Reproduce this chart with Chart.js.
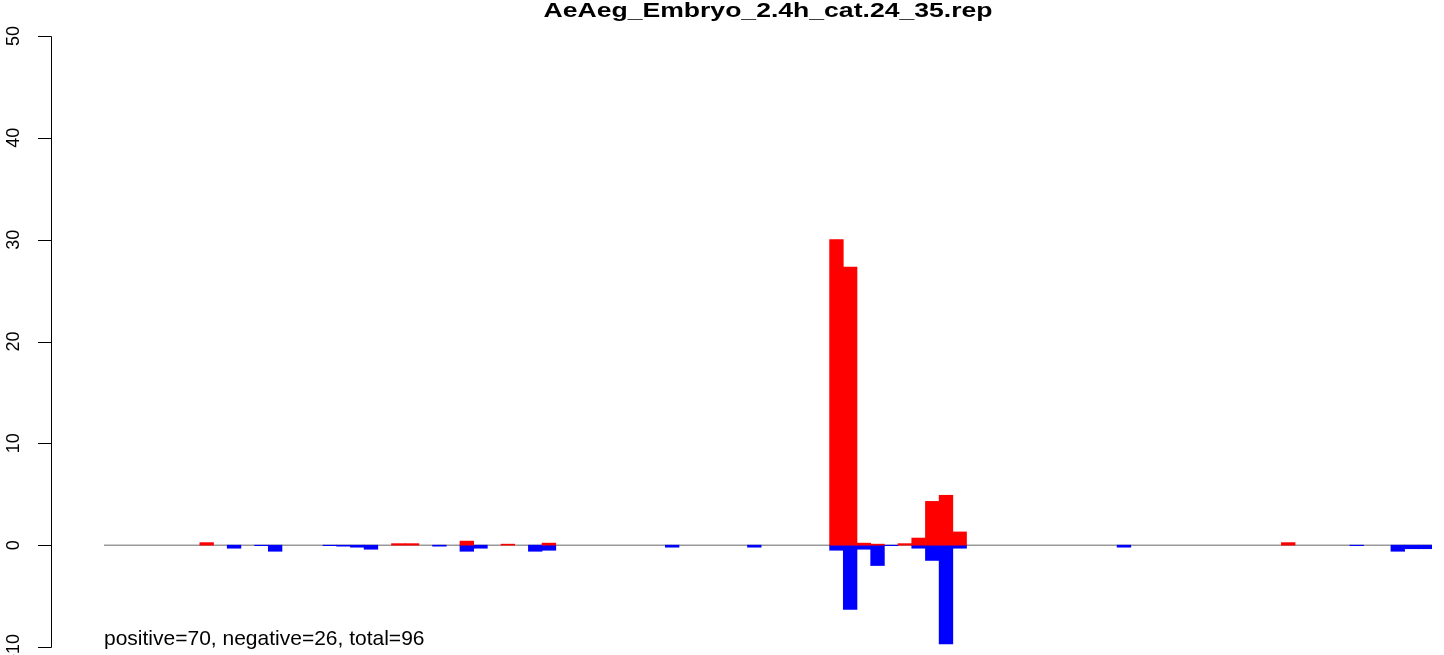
<!DOCTYPE html>
<html>
<head>
<meta charset="utf-8">
<script src="https://cdn.jsdelivr.net/npm/chart.js@4/dist/chart.umd.min.js"></script>
<style>
html,body{margin:0;padding:0;background:#fff;}
#wrap{width:1444px;height:655px;}
</style>
</head>
<body>
<div id="wrap"><canvas id="c" width="1444" height="655"></canvas></div>
<script>
const chartTitle = "AeAeg_Embryo_2.4h_cat.24_35.rep";
const footText = "positive=70, negative=26, total=96";
const yTicks = [-10, 0, 10, 20, 30, 40, 50];
const categories = Array.from({length: 97}, (_, i) => String(i + 1));
const positiveValues = [
  0,0,0,0,0,0,0,0.25,0,0,
  0,0,0,0,0,0,0,0,0,0,
  0,0.15,0.15,0,0,0,0.4,0,0,0.1,
  0,0,0.2,0,0,0,0,0,0,0,
  0,0,0,0,0,0,0,0,0,0,
  0,0,0,30,27.3,0.2,0.1,0,0.15,0.7,
  4.3,4.9,1.3,0,0,0,0,0,0,0,
  0,0,0,0,0,0,0,0,0,0,
  0,0,0,0,0,0,0.25,0,0,0,
  0,0,0,0,0,0,0
];
const negativeValues = [
  0,0,0,0,0,0,0,0,0,-0.3,
  0,-0.05,-0.6,0,0,0,-0.05,-0.1,-0.2,-0.4,
  0,0,0,0,-0.1,0,-0.6,-0.3,0,0,
  0,-0.6,-0.5,0,0,0,0,0,0,0,
  0,-0.2,0,0,0,0,0,-0.2,0,0,
  0,0,0,-0.5,-6.3,-0.4,-2.0,-0.05,0,-0.3,
  -1.5,-9.7,-0.3,0,0,0,0,0,0,0,
  0,0,0,0,-0.2,0,0,0,0,0,
  0,0,0,0,0,0,0,0,0,0,
  0,-0.05,0,0,-0.6,-0.35,-0.35
];

const FONT = '"Liberation Sans", Arial, Helvetica, sans-serif';
const nz = v => (v === 0 ? null : v);

const decor = {
  id: 'decor',
  beforeDatasetsDraw(chart) {
    const ctx = chart.ctx, y = chart.scales.y, a = chart.chartArea;
    ctx.save();
    const y0 = y.getPixelForValue(0);
    ctx.strokeStyle = '#999999';
    ctx.lineWidth = 1.5;
    ctx.beginPath();
    ctx.moveTo(a.left, y0);
    ctx.lineTo(a.right, y0);
    ctx.stroke();
    ctx.restore();
  },
  afterDatasetsDraw(chart) {
    const ctx = chart.ctx, y = chart.scales.y, a = chart.chartArea;
    ctx.save();
    const ax = 51.5;
    ctx.strokeStyle = '#000';
    ctx.lineWidth = 1;
    ctx.beginPath();
    ctx.moveTo(ax, Math.round(y.getPixelForValue(yTicks[0])) + 0.5);
    ctx.lineTo(ax, Math.round(y.getPixelForValue(yTicks[yTicks.length - 1])) + 0.5);
    yTicks.forEach(t => {
      const py = Math.round(y.getPixelForValue(t)) + 0.5;
      ctx.moveTo(ax, py);
      ctx.lineTo(38, py);
    });
    ctx.stroke();
    ctx.fillStyle = '#000';
    ctx.font = '18px ' + FONT;
    ctx.textAlign = 'center';
    ctx.textBaseline = 'middle';
    yTicks.forEach(t => {
      const py = y.getPixelForValue(t);
      ctx.save();
      ctx.translate(14, py);
      ctx.rotate(-Math.PI / 2);
      ctx.fillText(String(t), 0, 0);
      ctx.restore();
    });
    ctx.font = 'bold 21px ' + FONT;
    ctx.textAlign = 'center';
    ctx.textBaseline = 'alphabetic';
    const w = ctx.measureText(chartTitle).width;
    const sx = 449 / w;
    ctx.save();
    ctx.translate((a.left + a.right) / 2, 17);
    ctx.scale(sx, 1);
    ctx.fillText(chartTitle, 0, 0);
    ctx.restore();
    ctx.font = '21px ' + FONT;
    ctx.textAlign = 'left';
    ctx.fillText(footText, a.left, 645);
    ctx.restore();
  }
};

new Chart(document.getElementById('c'), {
  type: 'bar',
  data: {
    labels: categories,
    datasets: [
      { label: 'positive', data: positiveValues.map(nz), backgroundColor: '#ff0000', borderWidth: 0, barPercentage: 1, categoryPercentage: 1 },
      { label: 'negative', data: negativeValues.map(nz), backgroundColor: '#0000ff', borderWidth: 0, barPercentage: 1, categoryPercentage: 1 }
    ]
  },
  options: {
    responsive: false,
    animation: false,
    devicePixelRatio: 1,
    layout: { padding: { left: 104, right: 12, top: 36, bottom: 8 } },
    plugins: { legend: { display: false }, tooltip: { enabled: false }, title: { display: false } },
    scales: {
      x: { display: false, stacked: true, offset: true, grid: { display: false } },
      y: { display: false, stacked: true, min: -10, max: 50, grid: { display: false } }
    }
  },
  plugins: [decor]
});
</script>
</body>
</html>
